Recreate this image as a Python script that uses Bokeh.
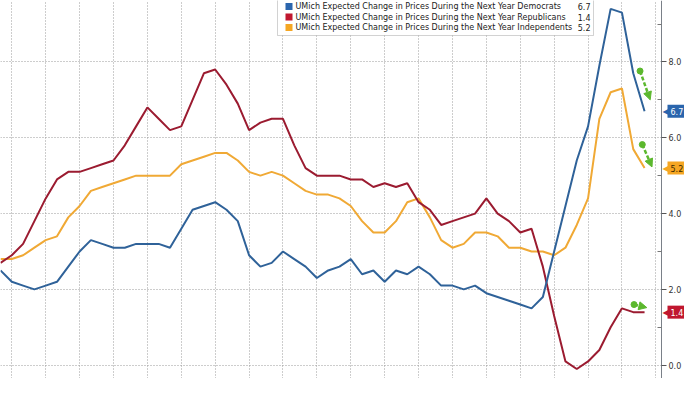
from bokeh.plotting import figure
from bokeh.models import (Range1d, FixedTicker, NumeralTickFormatter, Label,
                          Arrow, NormalHead, BoxAnnotation)
from bokeh.embed import file_html
from bokeh.resources import INLINE

# ---------------- data (monthly) ----------------
months = list(range(58))
democrats = [2.5, 2.2, 2.1, 2.0, 2.1, 2.2, 2.6, 3.0, 3.3, 3.2,
             3.1, 3.1, 3.2, 3.2, 3.2, 3.1, 3.6, 4.1, 4.2, 4.3,
             4.1, 3.8, 2.9, 2.6, 2.7, 3.0, 2.8, 2.6, 2.3, 2.5,
             2.6, 2.8, 2.4, 2.5, 2.2, 2.5, 2.4, 2.6, 2.4, 2.1,
             2.1, 2.0, 2.1, 1.9, 1.8, 1.7, 1.6, 1.5, 1.8, 3.0,
             4.2, 5.4, 6.3, 7.9, 9.4, 9.3, 7.7, 6.7]
republicans = [2.7, 2.9, 3.2, 3.8, 4.4, 4.9, 5.1, 5.1, 5.2, 5.3,
               5.4, 5.8, 6.3, 6.8, 6.5, 6.2, 6.3, 7.0, 7.7, 7.8,
               7.4, 6.9, 6.2, 6.4, 6.5, 6.5, 5.8, 5.2, 5.0, 5.0,
               5.0, 4.9, 4.9, 4.7, 4.8, 4.7, 4.8, 4.3, 4.1, 3.7,
               3.8, 3.9, 4.0, 4.4, 4.0, 3.8, 3.5, 3.6, 2.6, 1.3,
               0.1, -0.1, 0.1, 0.4, 1.0, 1.5, 1.4, 1.4]
independents = [2.8, 2.8, 2.9, 3.1, 3.3, 3.4, 3.9, 4.2, 4.6, 4.7,
                4.8, 4.9, 5.0, 5.0, 5.0, 5.0, 5.3, 5.4, 5.5, 5.6,
                5.6, 5.4, 5.1, 5.0, 5.1, 5.0, 4.8, 4.6, 4.5, 4.5,
                4.4, 4.2, 3.8, 3.5, 3.5, 3.8, 4.3, 4.4, 3.9, 3.3,
                3.1, 3.2, 3.5, 3.5, 3.4, 3.1, 3.1, 3.0, 3.0, 2.9,
                3.1, 3.7, 4.4, 6.5, 7.2, 7.3, 5.7, 5.2]

series_names = [
    "UMich Expected Change in Prices During the Next Year Democrats",
    "UMich Expected Change in Prices During the Next Year Republicans",
    "UMich Expected Change in Prices During the Next Year Independents",
]
series_values = [democrats, republicans, independents]
line_colors = ["#2f6299", "#9b1b30", "#f0a935"]
legend_colors = ["#2a65ad", "#c0172f", "#f5a623"]
badge_text_colors = ["white", "white", "#3a2a00"]
y_ticks = [0, 2, 4, 6, 8]
y_minor_ticks = [1, 3, 5, 7, 9]
x_grid_ticks = list(range(1, 59, 3))

# ---------------- figure ----------------
FW, FH = 684, 378
AXIS_PX = 661                      # where the value axis sits inside the frame
X0, XA = 0.0, 58.5                 # data x at left edge and at the axis
X1 = X0 + (XA - X0) * FW / AXIS_PX
Y0, Y1 = -0.35, 9.62
FONT = "DejaVu Sans"

p = figure(frame_width=FW, frame_height=FH,
           x_range=Range1d(X0, X1), y_range=Range1d(Y0, Y1),
           x_axis_location=None, y_axis_location="right",
           output_backend="svg", toolbar_location=None,
           min_border_left=0, min_border_top=0, min_border_bottom=0,
           min_border_right=0, outline_line_color=None,
           background_fill_color="white", border_fill_color="white")


def dx(px):
    return X0 + px * (X1 - X0) / FW


def dy(py):
    return Y1 - py * (Y1 - Y0) / FH


ax = p.yaxis[0]
ax.fixed_location = XA
ax.ticker = FixedTicker(ticks=y_ticks, minor_ticks=y_minor_ticks)
ax.formatter = NumeralTickFormatter(format="0.0")
ax.major_label_text_font = FONT
ax.major_label_text_font_size = "8px"
ax.major_label_text_color = "#333333"
ax.major_label_standoff = 2
ax.major_tick_out = 5
ax.major_tick_in = 0
ax.minor_tick_in = 4
ax.minor_tick_out = 0
ax.axis_line_color = "#7a8088"
ax.major_tick_line_color = "#555555"
ax.minor_tick_line_color = "#777777"

p.ygrid.ticker = FixedTicker(ticks=y_ticks)
p.xgrid.ticker = FixedTicker(ticks=x_grid_ticks)
for g in (p.xgrid, p.ygrid):
    g.grid_line_color = "#9a9a9a"
    g.grid_line_dash = "1 2"
    g.grid_line_width = 1

# blank the strip to the right of the axis (grid lines stop at the axis)
p.add_layout(BoxAnnotation(left=XA, right=X1 + 1, bottom=Y0 - 1, top=Y1 + 1,
                           fill_color="white", fill_alpha=1.0, line_color=None,
                           level="underlay"))

# lines
for idx in (2, 1, 0):
    p.line(months, series_values[idx], line_color=line_colors[idx], line_width=2)

# legend (manual)
p.add_layout(BoxAnnotation(left=dx(277), right=dx(593), top=dy(-3), bottom=dy(35),
                           fill_color="white", fill_alpha=1.0,
                           line_color="#6a6a6a", line_width=1))
rows = [6, 16.5, 27]
for name, vals, lc, ry in zip(series_names, series_values, legend_colors, rows):
    p.add_layout(BoxAnnotation(left=dx(285), right=dx(292), top=dy(ry - 3.5),
                               bottom=dy(ry + 3.5), fill_color=lc, fill_alpha=1.0,
                               line_color=None))
    p.add_layout(Label(x=dx(295), y=dy(ry), text=name, text_font=FONT,
                       text_font_size="8px", text_color="#222222",
                       text_baseline="middle", text_align="left"))
    p.add_layout(Label(x=dx(590), y=dy(ry), text=f"{vals[-1]:.1f}", text_font=FONT,
                       text_font_size="8px", text_color="#222222",
                       text_baseline="middle", text_align="right"))

# value badges on the right axis
for vals, lc, tc in zip(series_values, legend_colors, badge_text_colors):
    last = vals[-1]
    p.add_layout(Label(x=dx(AXIS_PX + 1), y=last, text="\u25C0", text_font=FONT,
                       text_font_size="12px", text_color=lc,
                       text_baseline="middle", text_align="left"))
    p.add_layout(Label(x=dx(AXIS_PX + 6), y=last, text=f"{last:.1f}", text_font=FONT,
                       text_font_size="8px", text_color=tc,
                       background_fill_color=lc, background_fill_alpha=1.0,
                       text_baseline="middle", text_align="left", padding=3))

# green arrows
green = "#5cb82e"
n = months[-1]
arrow_specs = [
    (democrats[-1], -0.4, 1.06, 0.5, 0.3),
    (independents[-1], -0.2, 0.62, 0.66, 0.03),
    (republicans[-1], -0.93, 0.2, 0.2, 0.12),
]
for last, sx, sy, ex, ey in arrow_specs:
    p.add_layout(Arrow(x_start=n + sx, y_start=last + sy, x_end=n + ex, y_end=last + ey,
                       line_color=green, line_width=2.5, line_dash="4 2",
                       end=NormalHead(size=8, fill_color=green, line_color=green)))
    p.scatter([n + sx], [last + sy], size=6, color=green)

open("out.html", "w").write(file_html(p, INLINE))
